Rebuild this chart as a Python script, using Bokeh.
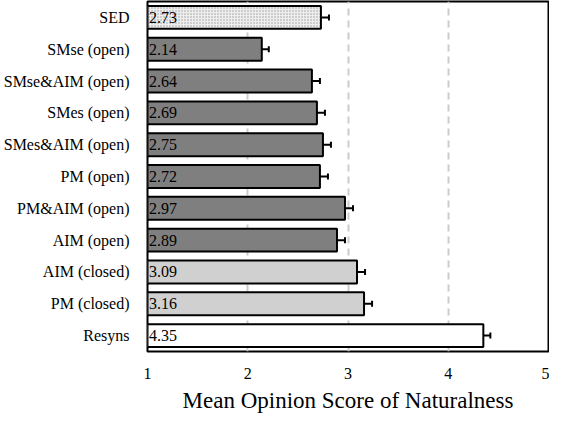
from bokeh.plotting import figure
from bokeh.models import ColumnDataSource, Range1d, FactorRange, Whisker, FixedTicker
from bokeh.core.properties import value
from bokeh.embed import file_html
from bokeh.resources import INLINE

categories = ["SED", "SMse (open)", "SMse&AIM (open)", "SMes (open)", "SMes&AIM (open)",
              "PM (open)", "PM&AIM (open)", "AIM (open)", "AIM (closed)", "PM (closed)", "Resyns"]
scores = [2.73, 2.14, 2.64, 2.69, 2.75, 2.72, 2.97, 2.89, 3.09, 3.16, 4.35]
errors = [0.08, 0.07, 0.08, 0.08, 0.08, 0.08, 0.08, 0.08, 0.08, 0.08, 0.07]
groups = ["sed", "open", "open", "open", "open", "open", "open", "open", "closed", "closed", "ref"]
x_ticks = [1, 2, 3, 4, 5]

color_map = {"sed": "#eeeeee", "open": "#7f7f7f", "closed": "#d0d0d0", "ref": "#ffffff"}
hatch_map = {"sed": "dot", "open": " ", "closed": " ", "ref": " "}

src = ColumnDataSource(dict(
    cat=categories,
    score=scores,
    lo=[s - e for s, e in zip(scores, errors)],
    hi=[s + e for s, e in zip(scores, errors)],
    color=[color_map[g] for g in groups],
    hatch=[hatch_map[g] for g in groups],
    label=["%.2f" % s for s in scores],
    base=[x_ticks[0]] * len(scores),
))

FONT = "'Liberation Serif', 'Times New Roman', serif"

p = figure(width=549, height=415, output_backend="svg", toolbar_location=None,
           y_range=FactorRange(*reversed(categories)),
           x_range=Range1d(1, 5),
           min_border_left=0, min_border_right=1, min_border_top=1, min_border_bottom=0)

p.hbar(y="cat", left="base", right="score", height=0.72, source=src,
       fill_color="color", line_color="black", line_width=2,
       hatch_pattern="hatch", hatch_color="#9a9a9a", hatch_scale=3, hatch_weight=0.6)

w = Whisker(source=src, base="cat", lower="lo", upper="hi", dimension="width",
            line_color="black", line_width=2)
w.upper_head.size = 6
w.lower_head.size = 6
w.upper_head.line_width = 2
w.lower_head.line_width = 2
p.add_layout(w)

p.text(x=[1.015] * len(categories), y=categories, text=src.data["label"],
       text_baseline="middle", text_align="left", text_font=value(FONT),
       text_font_size="16px", text_color="black")

p.xaxis.ticker = FixedTicker(ticks=x_ticks)
p.xaxis.axis_label = "Mean Opinion Score of Naturalness"
p.xaxis.axis_label_text_font = FONT
p.xaxis.axis_label_text_font_style = "normal"
p.xaxis.axis_label_text_font_size = "23px"
p.xaxis.axis_label_text_color = "black"
p.xaxis.major_label_text_font = FONT
p.xaxis.major_label_text_font_size = "16px"
p.xaxis.major_label_text_color = "black"
p.xaxis.axis_line_color = None
p.xaxis.major_tick_line_color = None
p.xaxis.minor_tick_line_color = None
p.xaxis.major_label_standoff = 10
p.xaxis.axis_label_standoff = 6

p.yaxis.major_label_text_font = FONT
p.yaxis.major_label_text_font_size = "16px"
p.yaxis.major_label_text_color = "black"
p.yaxis.axis_line_color = None
p.yaxis.major_tick_line_color = None
p.yaxis.minor_tick_line_color = None
p.yaxis.major_label_standoff = 12

p.ygrid.grid_line_color = None
p.xgrid.grid_line_color = "#cccccc"
p.xgrid.grid_line_dash = "7 5"
p.xgrid.grid_line_width = 2

p.outline_line_color = "black"
p.outline_line_width = 2

open("out.html", "w").write(file_html(p, INLINE))
